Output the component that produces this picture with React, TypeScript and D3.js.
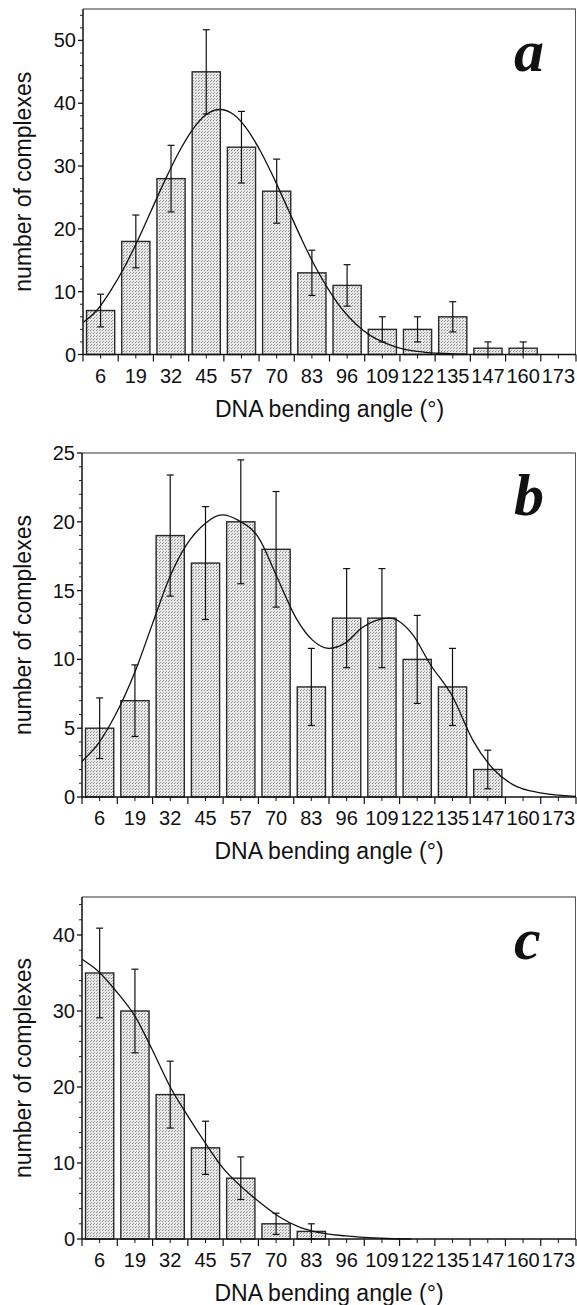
import React, { useRef, useEffect } from 'react'
import * as d3 from 'd3'

// bin centres (degrees) shown on the x axis
const angleLabels = ['6', '19', '32', '45', '57', '70', '83', '96', '109', '122', '135', '147', '160', '173']

// panel a
const countsA = [7, 18, 28, 45, 33, 26, 13, 11, 4, 4, 6, 1, 1, 0]
const errorsA = [2.6, 4.2, 5.3, 6.7, 5.7, 5.1, 3.6, 3.3, 2, 2, 2.4, 1, 1, 0]
const fitA: [number, number][] = [
  [0, 5.1], [5, 7.0], [10, 10.1], [15, 13.8], [20, 18.2], [25, 23.0], [30, 27.8], [35, 32.2],
  [40, 35.8], [45, 38.2], [50, 39.0], [55, 38.2], [60, 35.8], [65, 32.2], [70, 27.8], [75, 23.0],
  [80, 18.2], [85, 13.8], [90, 10.1], [95, 7.0], [100, 4.7], [105, 3.0], [110, 1.9], [115, 1.1],
  [120, 0.6], [125, 0.35], [130, 0.2], [135, 0.1], [140, 0.05],
]

// panel b
const countsB = [5, 7, 19, 17, 20, 18, 8, 13, 13, 10, 8, 2, 0, 0]
const errorsB = [2.2, 2.6, 4.4, 4.1, 4.5, 4.2, 2.8, 3.6, 3.6, 3.2, 2.8, 1.4, 0, 0]
const fitB: [number, number][] = [
  [0, 2.6], [6, 3.9], [12, 5.9], [19.5, 9.2], [25.7, 12.6], [31.8, 15.9], [38, 18.3], [45, 19.9],
  [51, 20.5], [57, 20.1], [64.5, 18.8], [71, 16.0], [78, 13.0], [84, 11.4], [90, 10.8], [96, 11.2],
  [102, 12.3], [112, 13.0], [120.5, 11.8], [126.7, 9.7], [135, 7.3], [142.5, 4.1], [150, 2.0],
  [157, 0.9], [167, 0.3], [180, 0.05],
]

// panel c
const countsC = [35, 30, 19, 12, 8, 2, 1, 0, 0, 0, 0, 0, 0, 0]
const errorsC = [5.9, 5.5, 4.4, 3.5, 2.8, 1.4, 1, 0, 0, 0, 0, 0, 0, 0]
const fitC: [number, number][] = [
  [0, 36.8], [6, 35.2], [12, 32.8], [19.5, 29.2], [25.6, 24.9], [32.3, 19.9], [38, 16.5], [45, 12.6],
  [51, 9.5], [58, 6.9], [64.5, 4.9], [72, 2.9], [79, 1.6], [84, 1.05], [96, 0.4], [109, 0.1], [120, 0],
]

const panels = [
  { letter: 'a', counts: countsA, errors: errorsA, fit: fitA, yMax: 55, yMajor: [0, 10, 20, 30, 40, 50], minorStep: 2,
    left: 83, right: 576, top: 9, bottom: 354.5 },
  { letter: 'b', counts: countsB, errors: errorsB, fit: fitB, yMax: 25, yMajor: [0, 5, 10, 15, 20, 25], minorStep: 1,
    left: 82, right: 576, top: 453, bottom: 797 },
  { letter: 'c', counts: countsC, errors: errorsC, fit: fitC, yMax: 45, yMajor: [0, 10, 20, 30, 40], minorStep: 2,
    left: 82, right: 576, top: 897, bottom: 1239 },
]

const sans = '"Liberation Sans", Arial, Helvetica, sans-serif'

export default function App() {
  const svgRef = useRef<SVGSVGElement>(null)

  useEffect(() => {
    if (!svgRef.current) return
    const svg = d3.select(svgRef.current)
    svg.selectAll('*').remove()

    const defs = svg.append('defs')
    const pat = defs.append('pattern')
      .attr('id', 'stipple')
      .attr('width', 3).attr('height', 3)
      .attr('patternUnits', 'userSpaceOnUse')
    pat.append('rect').attr('width', 3).attr('height', 3).attr('fill', '#e8e8e8')
    pat.append('rect').attr('x', 0).attr('y', 0).attr('width', 1).attr('height', 1).attr('fill', '#8a8a8a')
    pat.append('rect').attr('x', 1).attr('y', 2).attr('width', 1).attr('height', 1).attr('fill', '#a0a0a0')

    panels.forEach(p => {
      const g = svg.append('g')
      const x = d3.scaleBand().domain(angleLabels).range([p.left, p.right]).padding(0)
      const xa = d3.scaleLinear().domain([0, 180]).range([p.left, p.right])
      const y = d3.scaleLinear().domain([0, p.yMax]).range([p.bottom, p.top])
      const bw = x.bandwidth()

      // frame top + right
      g.append('line').attr('x1', p.left).attr('x2', p.right).attr('y1', p.top).attr('y2', p.top)
        .attr('stroke', '#333').attr('stroke-width', 1.2)
      g.append('line').attr('x1', p.right - 0.5).attr('x2', p.right - 0.5).attr('y1', p.top).attr('y2', p.bottom)
        .attr('stroke', '#555').attr('stroke-width', 1)

      // bars
      angleLabels.forEach((lab, i) => {
        const v = p.counts[i]
        if (v <= 0) return
        g.append('rect')
          .attr('x', x(lab)! + bw * 0.1)
          .attr('y', y(v))
          .attr('width', bw * 0.8)
          .attr('height', y(0) - y(v))
          .attr('fill', 'url(#stipple)')
          .attr('stroke', '#2a2a2a')
          .attr('stroke-width', 1.4)
      })

      // fitted curve
      const line = d3.line<[number, number]>()
        .x(d => xa(d[0]))
        .y(d => y(d[1]))
        .curve(d3.curveMonotoneX)
      g.append('path').attr('d', line(p.fit)).attr('fill', 'none')
        .attr('stroke', '#111').attr('stroke-width', 1.3)

      // error bars
      angleLabels.forEach((lab, i) => {
        const v = p.counts[i]
        const e = p.errors[i]
        if (v <= 0 || e <= 0) return
        const cx = x(lab)! + bw / 2
        const eg = g.append('g').attr('stroke', '#111').attr('stroke-width', 1.2)
        eg.append('line').attr('x1', cx).attr('x2', cx).attr('y1', y(v - e)).attr('y2', y(v + e))
        eg.append('line').attr('x1', cx - 3.5).attr('x2', cx + 3.5).attr('y1', y(v - e)).attr('y2', y(v - e))
        eg.append('line').attr('x1', cx - 3.5).attr('x2', cx + 3.5).attr('y1', y(v + e)).attr('y2', y(v + e))
      })

      // y axis
      const minor = d3.range(0, p.yMax + 0.001, p.minorStep).filter(v => !p.yMajor.includes(v))
      g.append('line').attr('x1', p.left).attr('x2', p.left).attr('y1', p.bottom).attr('y2', p.top)
        .attr('stroke', '#111').attr('stroke-width', 1.5)
      p.yMajor.forEach(v => {
        g.append('line').attr('x1', p.left - 5).attr('x2', p.left).attr('y1', y(v)).attr('y2', y(v))
          .attr('stroke', '#111').attr('stroke-width', 1.3)
        g.append('text').attr('x', p.left - 7).attr('y', y(v)).attr('dy', '0.35em')
          .attr('text-anchor', 'end').attr('font-family', sans).attr('font-size', 20)
          .attr('fill', '#111').text(v)
      })
      minor.forEach(v => {
        g.append('line').attr('x1', p.left - 3).attr('x2', p.left).attr('y1', y(v)).attr('y2', y(v))
          .attr('stroke', '#222').attr('stroke-width', 1)
      })

      // x axis
      g.append('line').attr('x1', p.left).attr('x2', p.right).attr('y1', p.bottom).attr('y2', p.bottom)
        .attr('stroke', '#111').attr('stroke-width', 1.5)
      const edges = angleLabels.map(l => x(l)!).concat([p.right])
      edges.forEach(ex => {
        g.append('line').attr('x1', ex).attr('x2', ex).attr('y1', p.bottom).attr('y2', p.bottom + 7)
          .attr('stroke', '#111').attr('stroke-width', 1.2)
      })
      angleLabels.forEach(lab => {
        const cx = x(lab)! + bw / 2
        g.append('line').attr('x1', cx).attr('x2', cx).attr('y1', p.bottom).attr('y2', p.bottom + 4)
          .attr('stroke', '#111').attr('stroke-width', 1)
        g.append('text').attr('x', cx).attr('y', p.bottom + 28)
          .attr('text-anchor', 'middle').attr('font-family', sans).attr('font-size', 20)
          .attr('fill', '#111').text(lab)
      })

      // axis titles
      g.append('text').attr('x', (p.left + p.right) / 2).attr('y', p.bottom + 62)
        .attr('text-anchor', 'middle').attr('font-family', sans).attr('font-size', 23)
        .attr('fill', '#111').text('DNA bending angle (°)')
      g.append('text')
        .attr('transform', `translate(31,${(p.top + p.bottom) / 2}) rotate(-90)`)
        .attr('text-anchor', 'middle').attr('font-family', sans).attr('font-size', 23)
        .attr('fill', '#111').text('number of complexes')

      // panel letter
      g.append('text').attr('x', 514).attr('y', p.top + 62)
        .attr('font-family', '"Liberation Serif", "Times New Roman", serif')
        .attr('font-style', 'italic').attr('font-weight', 'bold').attr('font-size', 60)
        .attr('fill', '#111').text(p.letter)
    })
  }, [])

  return (
    <svg ref={svgRef} width={577} height={1305}
      style={{ position: 'absolute', left: 0, top: 0, background: '#fff' }} />
  )
}
